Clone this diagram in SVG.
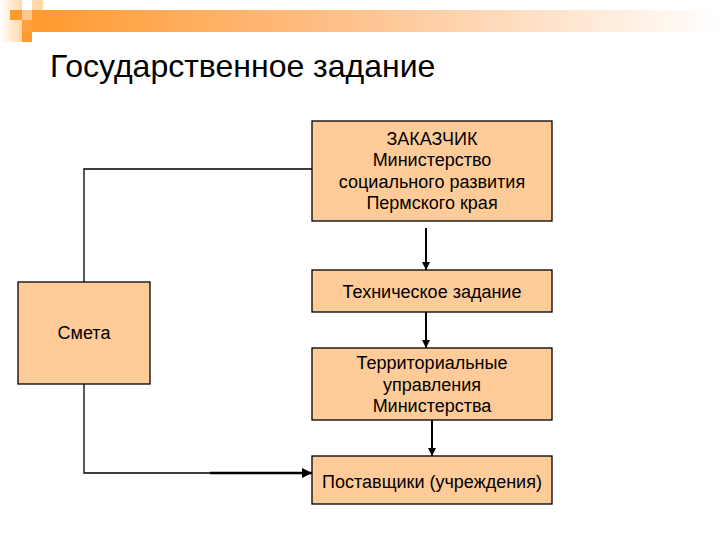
<svg xmlns="http://www.w3.org/2000/svg" width="720" height="540" viewBox="0 0 720 540">
<defs>
<linearGradient id="bar" x1="0" y1="0" x2="1" y2="0">
<stop offset="0" stop-color="#FF9A2E"/>
<stop offset="0.45" stop-color="#FFC08A"/>
<stop offset="1" stop-color="#FFFFFF"/>
</linearGradient>
<linearGradient id="strip" x1="0" y1="0" x2="1" y2="0">
<stop offset="0" stop-color="#FFFFFF"/>
<stop offset="1" stop-color="#FFD9A8"/>
</linearGradient>
<marker id="arr" viewBox="0 0 10 10" refX="10" refY="5" markerWidth="4" markerHeight="4" orient="auto">
<path d="M0,0 L10,5 L0,10 z" fill="#000"/>
</marker>
<style>
.box{fill:#FFCC99;stroke:#000;stroke-width:1.3}
.t{font-family:"Liberation Sans",Arial,sans-serif;font-size:18px;fill:#000;text-anchor:middle}
.ln{fill:none;stroke:#000;stroke-width:1.3}
.ar{fill:none;stroke:#000;stroke-width:2;marker-end:url(#arr)}
</style>
</defs>
<rect width="720" height="540" fill="#fff"/>
<g id="header">
<rect x="0" y="0" width="22" height="42" fill="url(#strip)"/>
<rect x="32" y="10" width="688" height="22" fill="url(#bar)"/>
<rect x="32" y="0" width="11" height="10" fill="#FFD9A8"/>
<rect x="10" y="10" width="12" height="10" fill="#FF9A2E"/>
<rect x="22" y="10" width="10" height="10" fill="#FFC88A"/>
<rect x="22" y="20" width="10" height="12" fill="#FFA040"/>
<rect x="22" y="32" width="10" height="10" fill="#FF9A2E"/>
</g>
<text x="50" y="77" font-family="'Liberation Sans',Arial,sans-serif" font-size="32" fill="#000">Государственное задание</text>
<g id="connectors">
<polyline class="ln" points="312,169 84,169 84,282"/>
<polyline class="ln" points="84,384 84,473 210,473"/>
<line class="ar" x1="210" y1="473" x2="312" y2="473" style="stroke-width:2.5"/>
<line class="ar" x1="426" y1="228" x2="426" y2="270"/>
<line class="ar" x1="426" y1="312" x2="426" y2="348"/>
<line class="ar" x1="432" y1="420" x2="432" y2="456"/>
</g>
<g id="zakazchik">
<rect class="box" x="312" y="121" width="240" height="100"/>
<text class="t" x="432" y="145">ЗАКАЗЧИК</text>
<text class="t" x="432" y="166">Министерство</text>
<text class="t" x="432" y="188">социального развития</text>
<text class="t" x="432" y="209">Пермского края</text>
</g>
<g id="tz">
<rect class="box" x="312" y="270" width="240" height="42"/>
<text class="t" x="432" y="298">Техническое задание</text>
</g>
<g id="terr">
<rect class="box" x="312" y="348" width="240" height="72"/>
<text class="t" x="432" y="369">Территориальные</text>
<text class="t" x="432" y="391">управления</text>
<text class="t" x="432" y="412">Министерства</text>
</g>
<g id="post">
<rect class="box" x="312" y="456" width="240" height="48"/>
<text class="t" x="432" y="488">Поставщики (учреждения)</text>
</g>
<g id="smeta">
<rect class="box" x="18" y="282" width="132" height="102"/>
<text class="t" x="84" y="339">Смета</text>
</g>
</svg>
